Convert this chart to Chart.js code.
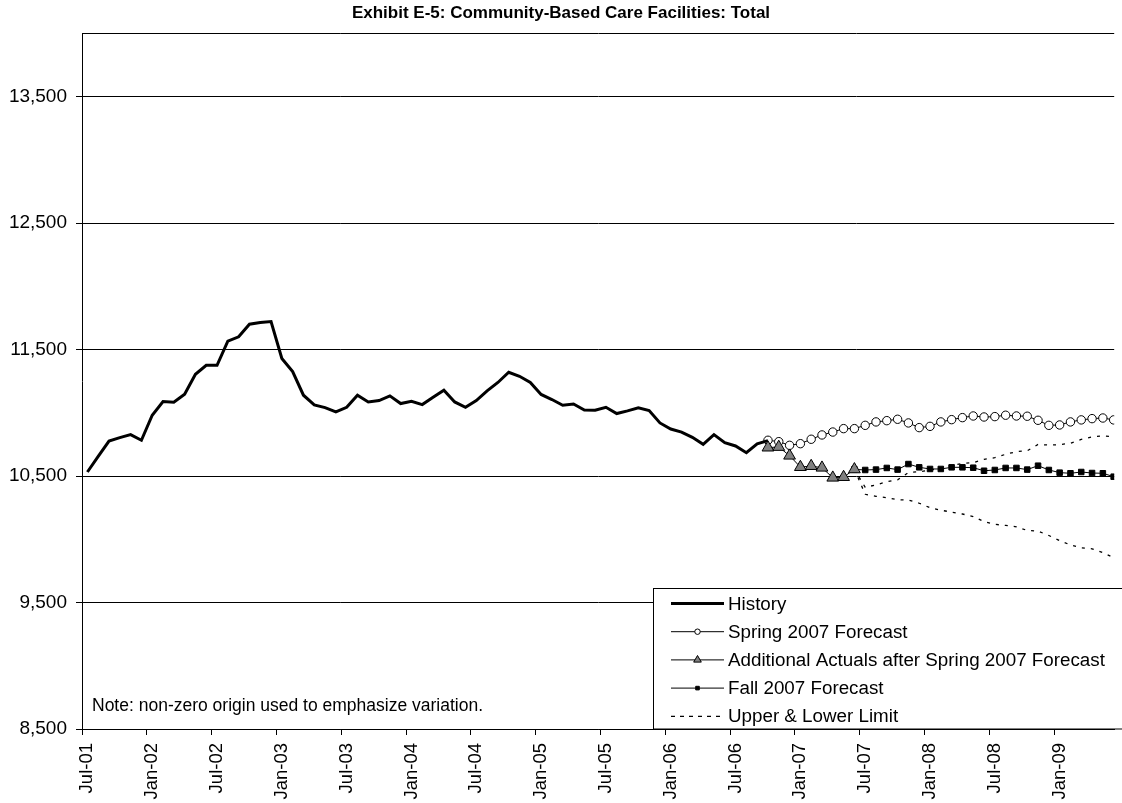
<!DOCTYPE html>
<html>
<head>
<meta charset="utf-8">
<script src="https://cdn.jsdelivr.net/npm/chart.js@4.4.0/dist/chart.umd.min.js"></script>
<style>
  html, body { margin: 0; padding: 0; background: #fff; overflow: hidden; }
  #wrap { width: 1122px; height: 803px; }
</style>
</head>
<body>
<div id="wrap"><canvas id="chart" width="1122" height="803"></canvas></div>
<script>
// x axis: one category per month, Jul-01 .. Jun-09 (index 0 .. 95)
const tickLabels = ['Jul-01', 'Jan-02', 'Jul-02', 'Jan-03', 'Jul-03', 'Jan-04', 'Jul-04', 'Jan-05',
  'Jul-05', 'Jan-06', 'Jul-06', 'Jan-07', 'Jul-07', 'Jan-08', 'Jul-08', 'Jan-09'];
const yTicks = [8500, 9500, 10500, 11500, 12500, 13500];

// History, Jul-01 .. Oct-06
const historyStart = 0;
const historyValues = [10532, 10656, 10777, 10804, 10828, 10783, 10981, 11089, 11083, 11147,
  11305, 11376, 11376, 11567, 11601, 11701, 11714, 11722, 11430, 11326,
  11139, 11062, 11041, 11007, 11044, 11139, 11086, 11097, 11134, 11073,
  11091, 11065, 11123, 11179, 11086, 11044, 11097, 11173, 11240, 11321,
  11289, 11240, 11145, 11105, 11060, 11070, 11022, 11020, 11044, 10994,
  11015, 11039, 11018, 10920, 10872, 10848, 10806, 10751, 10828, 10764,
  10738, 10685, 10755, 10780];

// Spring 2007 Forecast, Oct-06 .. Jun-09
const springStart = 63;
const springValues = [10783, 10772, 10743, 10756, 10791, 10825, 10848, 10875, 10875, 10901,
  10928, 10938, 10949, 10920, 10883, 10893, 10928, 10946, 10962, 10975,
  10967, 10970, 10981, 10975, 10973, 10941, 10901, 10904, 10928, 10944,
  10954, 10959, 10944];

// Additional Actuals after Spring 2007 Forecast, Oct-06 .. Jun-07
const actualsStart = 63;
const actualsValues = [10725, 10730, 10661, 10571, 10579, 10566, 10487, 10492, 10553];

// Fall 2007 Forecast, Jun-07 .. Jun-09
const fallStart = 71;
const fallValues = [10553, 10548, 10551, 10564, 10551, 10595, 10569, 10556, 10556, 10569,
  10569, 10566, 10542, 10548, 10564, 10564, 10551, 10582, 10548, 10527,
  10522, 10532, 10524, 10522, 10495];

// Upper & Lower Limit, Jun-07 .. Jun-09
const limitStart = 71;
const upperValues = [10553, 10411, 10430, 10455, 10470, 10527, 10535, 10545, 10565, 10585,
  10600, 10606, 10632, 10645, 10672, 10693, 10700, 10750, 10745, 10748,
  10760, 10790, 10810, 10817, 10812];
const lowerValues = [10553, 10356, 10340, 10329, 10312, 10310, 10285, 10250, 10230, 10215,
  10200, 10180, 10140, 10118, 10110, 10099, 10070, 10065, 10030, 9990,
  9955, 9933, 9925, 9895, 9855];

const FONT = 'Arial, "Liberation Sans", sans-serif';
Chart.defaults.font.family = FONT;
Chart.defaults.color = '#000';

function toPoints(start, values) {
  return values.map((v, i) => ({ x: start + i, y: v }));
}

const legendOrder = ['History', 'Spring 2007 Forecast', 'Additional Actuals after Spring 2007 Forecast',
  'Fall 2007 Forecast', 'Upper & Lower Limit'];

// legend box + note drawn inside the plot area
const boxLegend = {
  id: 'boxLegend',
  afterDatasetsDraw(chart) {
    const ctx = chart.ctx;
    const area = chart.chartArea;
    const left = 653.5, top = 588.5;
    ctx.save();
    ctx.fillStyle = '#fff';
    ctx.strokeStyle = '#000';
    ctx.lineWidth = 1;
    ctx.fillRect(left, top, 500, area.bottom - top);
    ctx.strokeRect(left, top, 500, area.bottom - top);

    ctx.font = '18.8px ' + FONT;
    ctx.textBaseline = 'middle';
    ctx.textAlign = 'left';
    legendOrder.forEach((label, i) => {
      const ds = chart.data.datasets.find(d => d.label === label);
      const y = 603.5 + i * 28.2;
      ctx.save();
      ctx.strokeStyle = '#000';
      ctx.lineWidth = ds.borderWidth;
      ctx.setLineDash(ds.borderDash ? [4, 5] : []);
      ctx.beginPath();
      ctx.moveTo(671, y);
      ctx.lineTo(724, y);
      ctx.stroke();
      ctx.restore();
      if (ds.pointRadius > 0) {
        ctx.save();
        ctx.fillStyle = ds.pointBackgroundColor;
        ctx.strokeStyle = ds.pointBorderColor;
        Chart.helpers.drawPoint(ctx, {
          pointStyle: ds.pointStyle,
          radius: ds.pointRadius * 0.65,
          rotation: 0,
          borderWidth: 1
        }, 697.5, y);
        ctx.restore();
      }
      ctx.fillStyle = '#000';
      ctx.fillText(label, 728, y + 1);
    });

    ctx.font = '17.5px ' + FONT;
    ctx.textBaseline = 'alphabetic';
    ctx.fillText('Note: non-zero origin used to emphasize variation.', 92, 711);
    ctx.restore();
  }
};

const ctx = document.getElementById('chart').getContext('2d');
const chart = new Chart(ctx, {
  type: 'line',
  data: {
    datasets: [
      {
        label: 'Additional Actuals after Spring 2007 Forecast',
        data: toPoints(actualsStart, actualsValues),
        borderColor: '#000', borderWidth: 1,
        pointStyle: 'triangle', pointRadius: 6.8,
        pointBackgroundColor: '#808080', pointBorderColor: '#000', pointBorderWidth: 1
      },
      {
        label: 'Fall 2007 Forecast',
        data: toPoints(fallStart, fallValues),
        borderColor: '#000', borderWidth: 1,
        pointStyle: 'rect', pointRadius: 3.9,
        pointBackgroundColor: '#000', pointBorderColor: '#000', pointBorderWidth: 1
      },
      {
        label: 'History',
        data: toPoints(historyStart, historyValues),
        borderColor: '#000', borderWidth: 3, pointRadius: 0
      },
      {
        label: 'Spring 2007 Forecast',
        data: toPoints(springStart, springValues),
        borderColor: '#000', borderWidth: 1,
        pointStyle: 'circle', pointRadius: 4.2,
        pointBackgroundColor: '#fff', pointBorderColor: '#000', pointBorderWidth: 1
      },
      {
        label: 'Upper & Lower Limit',
        data: toPoints(limitStart, upperValues),
        borderColor: '#000', borderWidth: 1.3, borderDash: [3, 6], pointRadius: 0
      },
      {
        label: 'Lower Limit',
        data: toPoints(limitStart, lowerValues),
        borderColor: '#000', borderWidth: 1.3, borderDash: [3, 6], pointRadius: 0
      }
    ]
  },
  options: {
    responsive: false,
    animation: false,
    devicePixelRatio: 1,
    layout: { padding: { left: 0, right: 0, top: 0, bottom: 0 } },
    elements: { line: { tension: 0 } },
    plugins: {
      legend: { display: false },
      tooltip: { enabled: false },
      title: {
        display: true,
        text: 'Exhibit E-5: Community-Based Care Facilities: Total',
        color: '#000',
        font: { size: 17, weight: 'bold' },
        padding: { top: 3, bottom: 10 }
      }
    },
    scales: {
      x: {
        type: 'linear',
        min: -0.5,
        max: 95.05,
        afterFit(scale) { scale.height = 74; },
        afterBuildTicks(scale) {
          scale.ticks = tickLabels.map((_, k) => ({ value: -0.5 + 6 * k }));
        },
        grid: { drawOnChartArea: false, drawTicks: true, tickLength: 6, color: '#000' },
        border: { display: true, color: '#000', width: 1 },
        ticks: {
          autoSkip: false,
          minRotation: 90,
          maxRotation: 90,
          labelOffset: 5.4,
          padding: 8,
          font: { size: 18.5 },
          color: '#000',
          callback: (value, index) => tickLabels[index]
        }
      },
      y: {
        min: 8500,
        max: 14000,
        afterFit(scale) { scale.width = 82; },
        afterBuildTicks(scale) {
          scale.ticks = yTicks.concat([14000]).map(v => ({ value: v }));
        },
        grid: {
          color: '#000',
          lineWidth: 1,
          tickLength: 6,
          tickColor: c => (c.tick && c.tick.value === 14000 ? 'rgba(0,0,0,0)' : '#000')
        },
        border: { display: true, color: '#000', width: 1 },
        ticks: {
          padding: 9,
          font: { size: 19 },
          color: '#000',
          callback: v => (v === 14000 ? '' : v.toLocaleString('en-US'))
        }
      }
    }
  },
  plugins: [boxLegend]
});
</script>
</body>
</html>
